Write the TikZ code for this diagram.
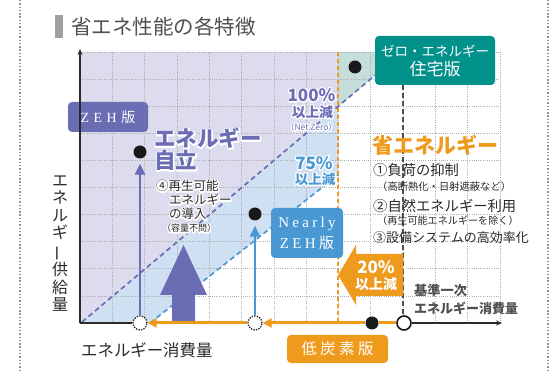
\documentclass[tikz,border=0pt]{standalone}
\usepackage{fontspec}
\setmainfont{Noto Sans CJK JP}
\newfontfamily\tagserif{Liberation Serif}
\usepackage{graphicx}
\usetikzlibrary{arrows.meta}
\definecolor{zehpurple}{HTML}{6A6DB4}
\definecolor{zehblue}{HTML}{4A98D3}
\definecolor{zehteal}{HTML}{00918A}
\definecolor{zehorange}{HTML}{EE9A1C}
\definecolor{lav}{HTML}{DCDCEE}
\definecolor{ltblue}{HTML}{CFE0F2}
\definecolor{ltteal}{HTML}{C5DEDC}
\definecolor{txtdark}{HTML}{2A2A2A}
\definecolor{txtgray}{HTML}{505050}
\definecolor{gridgray}{HTML}{AEAEAE}
\newcommand\fsz[2]{\fontsize{#1}{#2}\selectfont}
\newcommand\lsp{\hspace{3.3pt}}
\newcommand\halo[1]{\leavevmode\rlap{\color{white}\special{pdf:literal direct 1 Tr 2.6 w 1 j 1 J}#1\special{pdf:literal direct 0 Tr}}#1}
\begin{document}
\begin{tikzpicture}[x=1pt,y=-1pt,
  gridline/.style={draw=gridgray, line width=0.6pt, dash pattern=on 0.7pt off 1.5pt},
  edgedots/.style={draw=gray!85, line width=1.4pt, dash pattern=on 1.4pt off 1.9pt},
  axisline/.style={draw=txtdark, line width=1.2pt},
  axisarrow/.style={axisline, -{Stealth[length=6pt,width=5pt]}},
  orangeline/.style={draw=zehorange, line width=3pt},
  orangearrow/.style={orangeline, -{Triangle[length=9pt,width=9pt]}},
  purplearrow/.style={draw=zehpurple, line width=2.6pt, -{Triangle[length=11pt,width=10pt]}, shorten >=5pt},
  bluearrow/.style={draw=zehblue, line width=2.6pt, -{Triangle[length=11pt,width=10pt]}, shorten >=5pt},
  purpledash/.style={draw=zehpurple, line width=1.7pt, dash pattern=on 5pt off 3.5pt},
  bluedash/.style={draw=zehblue, line width=1.7pt, dash pattern=on 5pt off 3.5pt},
  tagbox/.style={rounded corners=4pt, text=white, inner sep=0pt, align=center},
  bigdot/.style={circle, fill=black!90, minimum size=13pt, inner sep=0pt},
  dotcircle/.style={circle, draw=black!90, dash pattern=on 1.3pt off 1.3pt, line width=1.3pt, fill=white, minimum size=14pt, inner sep=0pt},
  opencircle/.style={circle, draw=black!90, line width=1.6pt, fill=white, minimum size=14pt, inner sep=0pt},
  txt/.style={inner sep=0pt, text=txtdark},
]
\path[use as bounding box] (0,0) rectangle (557,371);
% page edge dotted lines
\draw[edgedots] (20,0) -- (20,371);
\draw[edgedots] (548,0) -- (548,371);
% title
\fill[gray!75] (55,15) rectangle (62.5,38);
\node[txt, anchor=west, text=txtgray, font=\fsz{20.5}{22}] (title) at (71,27) {省エネ性能の各特徴};
% regions
\fill[lav] (80,52) -- (338,52) -- (338,106.5) -- (82,323) -- (80,323) -- cycle;
\fill[ltblue] (82,323) -- (338,106.5) -- (338,175) -- (150,323) -- cycle;
\fill[ltteal] (338,52) -- (377,52) -- (377,74) -- (338,106.5) -- cycle;
% grid
\foreach \i in {1,...,13} \draw[gridline] ({80+32.3*\i},52) -- ({80+32.3*\i},323);
\foreach \j in {0,...,9} \draw[gridline] (80,{52+27.1*\j}) -- (500,{52+27.1*\j});
% diagonals and verticals
\draw[purpledash] (82,322) -- (376,74.5);
\draw[bluedash] (150,323) -- (338,175);
\draw[draw=zehorange, line width=1.6pt, dash pattern=on 4pt off 3pt] (338,52) -- (338,322);
\draw[draw=txtgray, line width=1.6pt, dash pattern=on 5pt off 3pt] (403,85) -- (403,322);
% big purple arrow
\fill[zehpurple] (172,323) -- (172,295) -- (160,295) -- (183.5,245) -- (207,295) -- (195,295) -- (195,323) -- cycle;
% orange 20% arrow
\fill[zehorange] (403,254) -- (356,254) -- (356,245) -- (338,275) -- (356,305) -- (356,296) -- (403,296) -- cycle;
\node[txt, text=white, font=\bfseries\fsz{17}{17}] (p20) at (376,267) {20\%};
\node[txt, text=white, font=\bfseries\fsz{14}{14}] (p20b) at (376,284) {以上減};
% coordinates
\coordinate (origin) at (80,323);
\coordinate (ytop) at (80,49);
\coordinate (xend) at (502,323);
% markers
\node[dotcircle] (c1) at (140,323) {};
\node[dotcircle] (c2) at (255,323) {};
\node[bigdot] (d0) at (372,323) {};
\node[opencircle] (o0) at (404,323) {};
\node[bigdot] (dzeh) at (140,152) {};
\node[bigdot] (dnearly) at (255,214) {};
\node[bigdot] (dzero) at (355,67) {};
% tags
\node[tagbox, fill=zehpurple, minimum width=80pt, minimum height=30pt, font=\fsz{14}{14}] (zehtag) at (108,117) {{\tagserif Z\hspace{4.5pt}E\hspace{4.5pt}H}\hspace{4.5pt}版};
\node[tagbox, fill=zehblue, minimum width=72pt, minimum height=50pt, font=\fsz{15}{21}] (nearlytag) at (307,233) {{\tagserif N\lsp e\lsp a\lsp r\lsp l\lsp y}\\{\tagserif Z\lsp E\lsp H}\lsp 版};
\node[tagbox, fill=zehorange, minimum width=101pt, minimum height=28pt, font=\fsz{15.5}{16}] (lctag) at (337.5,349) {低\hspace{3.5pt}炭\hspace{3.5pt}素\hspace{3.5pt}版};
\node[tagbox, fill=zehteal, minimum width=120pt, minimum height=49pt, font=\fsz{13.5}{19}] (zerotag) at (435,60.5) {ゼロ・エネルギー\\{\fsz{17}{19}住宅版}};
% axis labels
\node[txt, align=center, font=\fsz{16}{17.6}] (ylab) at (60,243.5) {エ\\ネ\\ル\\ギ\\\rotatebox[origin=c]{90}{ー}\\供\\給\\量};
\node[txt, anchor=west, font=\fsz{16.4}{17}] (xlab) at (81,350) {エネルギー消費量};
% texts
\node[txt, anchor=west, align=left, text=zehpurple, font=\bfseries\fsz{21.5}{22}] (jiritsu) at (154,149.5) {\halo{エネルギー}\\\halo{自立}};
\node[txt, anchor=north west, align=left, font=\fsz{12.5}{14}] (renew) at (156,180) {\halo{④再生可能}\\\hspace*{13pt}\halo{エネルギー}\\\hspace*{13pt}\halo{の導入}\\[-1pt]\hspace*{6pt}{\fsz{9}{12}\halo{（容量不問）}}};
\node[txt, text=zehpurple, font=\bfseries\fsz{17}{17}] (p100) at (311.5,95) {\halo{100\%}};
\node[txt, text=zehpurple, font=\bfseries\fsz{13.7}{14}] (p100b) at (312.5,112) {\halo{以上減}};
\node[txt, text=zehpurple, font=\fsz{8.5}{9}] (p100c) at (311.5,127) {\halo{（Net Zero）}};
\node[txt, text=zehblue, font=\bfseries\fsz{17}{17}] (p75) at (314,163) {\halo{75\%}};
\node[txt, text=zehblue, font=\bfseries\fsz{13.5}{14}] (p75b) at (315,179) {\halo{以上減}};
\node[txt, anchor=west, text=zehorange, font=\bfseries\fsz{21}{22}] (shoene) at (372,145) {省エネルギー};
\node[txt, anchor=west, font=\fsz{14.3}{15}] (item1) at (373,170) {①負荷の抑制};
\node[txt, anchor=west, font=\fsz{10.3}{11}] (item1b) at (377,187) {（高断熱化・日射遮蔽など）};
\node[txt, anchor=west, font=\fsz{14.3}{15}] (item2) at (373,206) {②自然エネルギー利用};
\node[txt, anchor=west, font=\fsz{10.1}{11}] (item2b) at (377,221) {（再生可能エネルギーを除く）};
\node[txt, anchor=west, font=\fsz{13}{14}] (item3) at (373,238) {③設備システムの高効率化};
\node[txt, anchor=west, text=txtgray, font=\bfseries\fsz{13.2}{14}] (base1) at (414,290) {基準一次};
\node[txt, anchor=west, text=txtgray, font=\bfseries\fsz{13}{14}] (base2) at (414,308) {エネルギー消費量};
% connectors
\draw[axisarrow] (origin) -- (ytop);
\draw[axisline] (origin) -- (c1);
\draw[axisarrow] (o0) -- (xend);
\draw[orangeline] (o0) -- (d0);
\draw[orangearrow] (d0) -- (c2);
\draw[orangearrow] (c2) -- (c1);
\draw[purplearrow] (c1) -- (dzeh);
\draw[bluearrow] (c2) -- (dnearly);
\end{tikzpicture}
\end{document}
